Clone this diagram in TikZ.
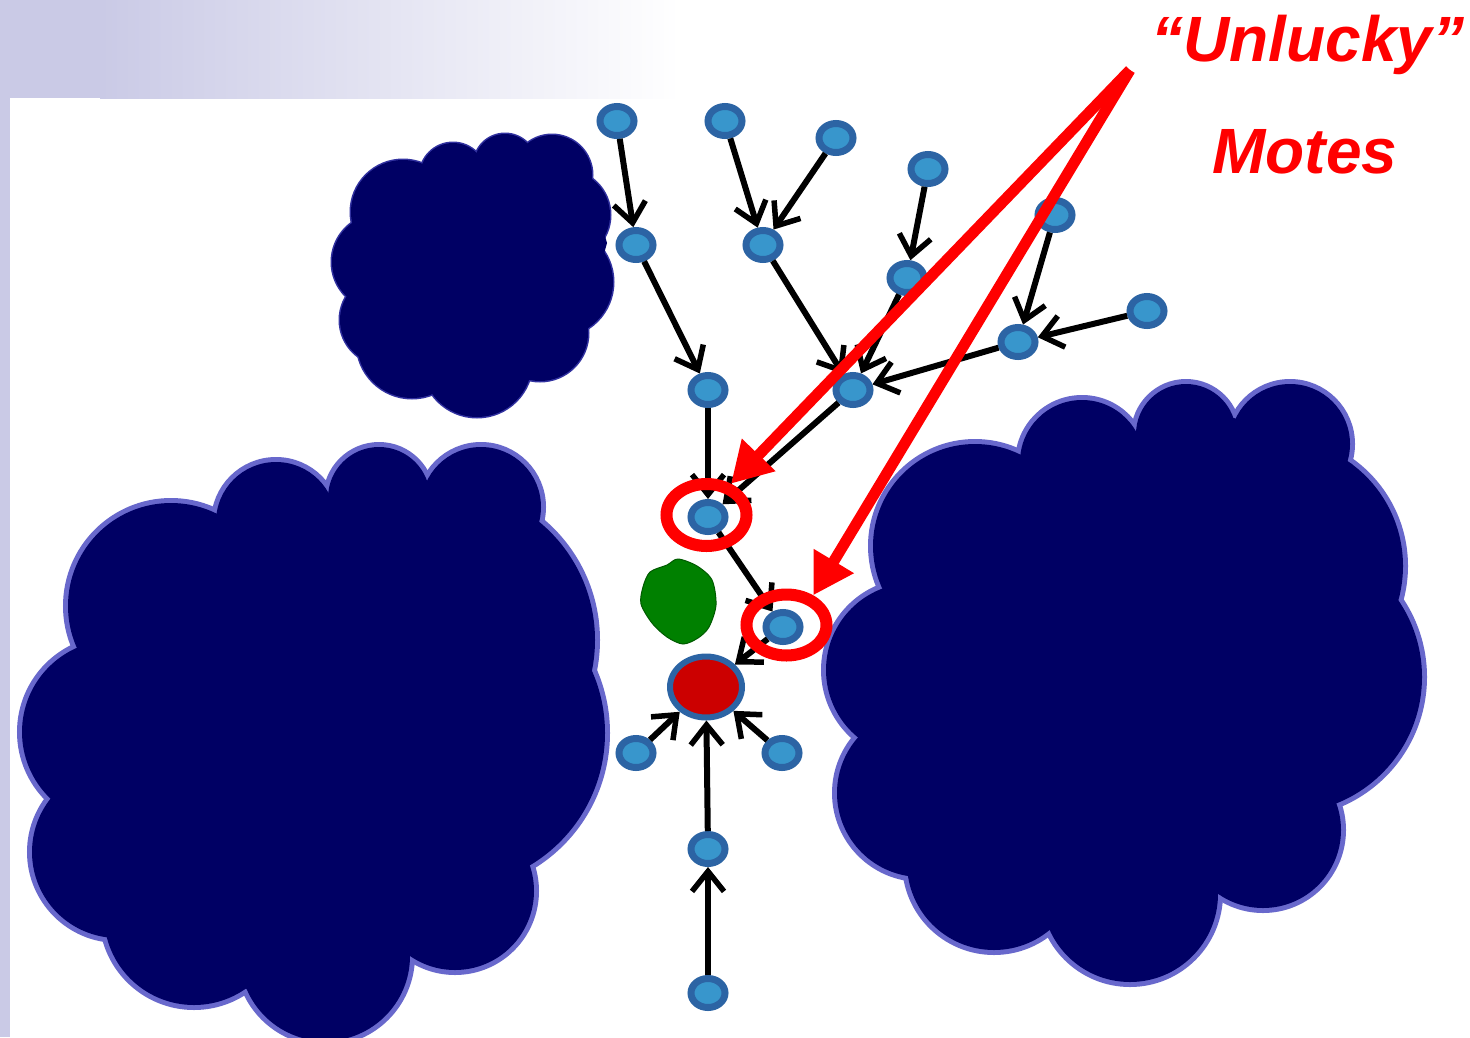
\documentclass[tikz,border=0pt]{standalone}
\usepackage{fontspec}
\setmainfont{Liberation Sans}
\usetikzlibrary{arrows.meta,shapes.geometric}

\definecolor{bandLav}{RGB}{202,202,230}
\definecolor{cloudNavy}{RGB}{0,0,100}
\definecolor{cloudRim}{RGB}{104,104,204}
\definecolor{cloudRimDark}{RGB}{50,50,160}
\definecolor{moteRing}{RGB}{44,100,164}
\definecolor{moteCore}{RGB}{56,150,204}
\definecolor{sinkRed}{RGB}{204,0,0}
\definecolor{blobGreen}{RGB}{0,128,0}
\definecolor{annotRed}{RGB}{255,0,0}

\tikzset{
  mote/.style={ellipse, inner sep=0pt, minimum width=34pt, minimum height=29pt,
    fill=moteCore, draw=moteRing, line width=7pt},
  sinknode/.style={ellipse, inner sep=0pt, minimum width=72pt, minimum height=61pt,
    fill=sinkRed, draw=moteRing, line width=6pt},
  link/.style={draw=black, line width=6pt,
    -{Straight Barb[length=20pt,width=32pt,line width=5.5pt]}},
  ring/.style={ellipse, inner sep=0pt, draw=annotRed, line width=12pt,
    minimum width=80pt, minimum height=62pt},
  pointer/.style={draw=annotRed, line width=11pt,
    -{Triangle[length=40pt,width=44pt]}},
  caption/.style={text=annotRed, font=\fontsize{64}{64}\selectfont\bfseries\itshape,
    inner sep=0pt, anchor=base},
  rimbig/.style={draw=cloudRim, line width=10pt},
  rimsmall/.style={draw=cloudRimDark, line width=3pt},
  body/.style={fill=cloudNavy}
}

\begin{document}
\begin{tikzpicture}[x=1pt,y=-1pt]
\useasboundingbox (0,0) rectangle (1470,1037);
\fill[white] (0,0) rectangle (1470,1037);

% slide header band and left margin strip
\fill[bandLav] (0,0) rectangle (100,98);
\shade[left color=bandLav, right color=white] (100,0) rectangle (680,98);
\fill[bandLav] (0,98) rectangle (10,1037);

% ---- small cloud (top left)
\foreach \cx/\cy/\r in {403/212/52, 453/176/33, 505/165/31, 552/175/40,
    565/215/45, 558/282/55, 540/333/48, 477/362/55, 412/343/55,
    385/320/45, 380/262/48}
  \draw[rimsmall] (\cx,\cy) circle[radius=\r pt];
\fill[body] (358,227) -- (427,170) -- (480,153) -- (527,148) -- (587,172)
  -- (607,243) -- (583,330) -- (517,373) -- (437,393) -- (367,360)
  -- (347,297) -- cycle;
\foreach \cx/\cy/\r in {403/212/52, 453/176/33, 505/165/31, 552/175/40,
    565/215/45, 558/282/55, 540/333/48, 477/362/55, 412/343/55,
    385/320/45, 380/262/48}
  \fill[body] (\cx,\cy) circle[radius=\r pt];

% ---- large cloud (left)
\foreach \cx/\cy/\r in {171/606/103, 276/522/60, 379/498/51, 481/507/60,
    442/640/153, 451/733/154, 455/891/79, 325/956/85, 194/915/90,
    118/852/86, 114/732/92}
  \draw[rimbig] (\cx,\cy) circle[radius=\r pt];
\fill[body] (79,647) -- (215,522) -- (328,493) -- (427,481) -- (542,525)
  -- (591,667) -- (528,861) -- (409,956) -- (247,989) -- (105,936)
  -- (51,800) -- cycle;
\foreach \cx/\cy/\r in {171/606/103, 276/522/60, 379/498/51, 481/507/60,
    442/640/153, 451/733/154, 455/891/79, 325/956/85, 194/915/90,
    118/852/86, 114/732/92}
  \fill[body] (\cx,\cy) circle[radius=\r pt];

% ---- large cloud (right)
\foreach \cx/\cy/\r in {975/546/102, 1082/462/62, 1186/434/50, 1290/444/60,
    1276/566/127, 1286/677/136, 1263/830/78, 1130/894/88, 994/863/87,
    921/793/84, 913/670/87}
  \draw[rimbig] (\cx,\cy) circle[radius=\r pt];
\fill[body] (884,588) -- (1020,456) -- (1136,432) -- (1234,418) -- (1352,464)
  -- (1398,602) -- (1336,802) -- (1218,894) -- (1050,930) -- (908,876)
  -- (858,738) -- cycle;
\foreach \cx/\cy/\r in {975/546/102, 1082/462/62, 1186/434/50, 1290/444/60,
    1276/566/127, 1286/677/136, 1263/830/78, 1130/894/88, 994/863/87,
    921/793/84, 913/670/87}
  \fill[body] (\cx,\cy) circle[radius=\r pt];

% ---- green blob
\filldraw[fill=blobGreen, draw=blobGreen!70!black, line width=1pt]
  plot[smooth cycle] coordinates {(643,587) (650,572) (667,565) (678,559)
  (697,566) (712,580) (716,605) (709,627) (698,638) (683,644) (667,637)
  (652,623) (641,604)};

% ---- motes
\node[mote] (a1) at (617,121) {};
\node[mote] (a2) at (725,121) {};
\node[mote] (a3) at (836,138) {};
\node[mote] (a4) at (928,169) {};
\node[mote] (a5) at (1055,215) {};
\node[mote] (a6) at (1147,311) {};
\node[mote] (b1) at (636,245) {};
\node[mote] (b2) at (763,245) {};
\node[mote] (b3) at (907,278) {};
\node[mote] (b4) at (1018,342) {};
\node[mote] (c1) at (708,390) {};
\node[mote] (c2) at (853,390) {};
\node[mote] (d1) at (708,517) {};
\node[mote] (d2) at (783,627) {};
\node[sinknode] (sink) at (706,687) {};
\node[mote] (e1) at (636,753) {};
\node[mote] (e2) at (782,753) {};
\node[mote] (f1) at (708,849) {};
\node[mote] (f2) at (708,993) {};

% ---- routing links
\draw[link] (a1) -- (b1);
\draw[link] (a2) -- (b2);
\draw[link] (a3) -- (b2);
\draw[link] (a4) -- (b3);
\draw[link] (a5) -- (b4);
\draw[link] (a6) -- (b4);
\draw[link] (b1) -- (c1);
\draw[link] (b2) -- (c2);
\draw[link] (b3) -- (c2);
\draw[link] (b4) -- (c2);
\draw[link] (c1) -- (d1);
\draw[link] (c2) -- (d1);
\draw[link] (d1) -- (d2);
\draw[link] (d2) -- (sink);
\draw[link] (e1) -- (sink);
\draw[link] (e2) -- (sink);
\draw[link] (f1) -- (sink);
\draw[link] (f2) -- (f1);

% ---- annotation
\node[ring] (ring1) at (706.5,515) {};
\node[ring, minimum height=61pt] (ring2) at (786.5,625) {};
\coordinate (U) at (1130,70);
\draw[pointer] (U) -- (ring1.52);
\draw[pointer] (U) -- (ring2.48);

\node[caption] (t1) at (1308,61) {“Unlucky”};
\node[caption] (t2) at (1305,173) {Motes};
\end{tikzpicture}
\end{document}
